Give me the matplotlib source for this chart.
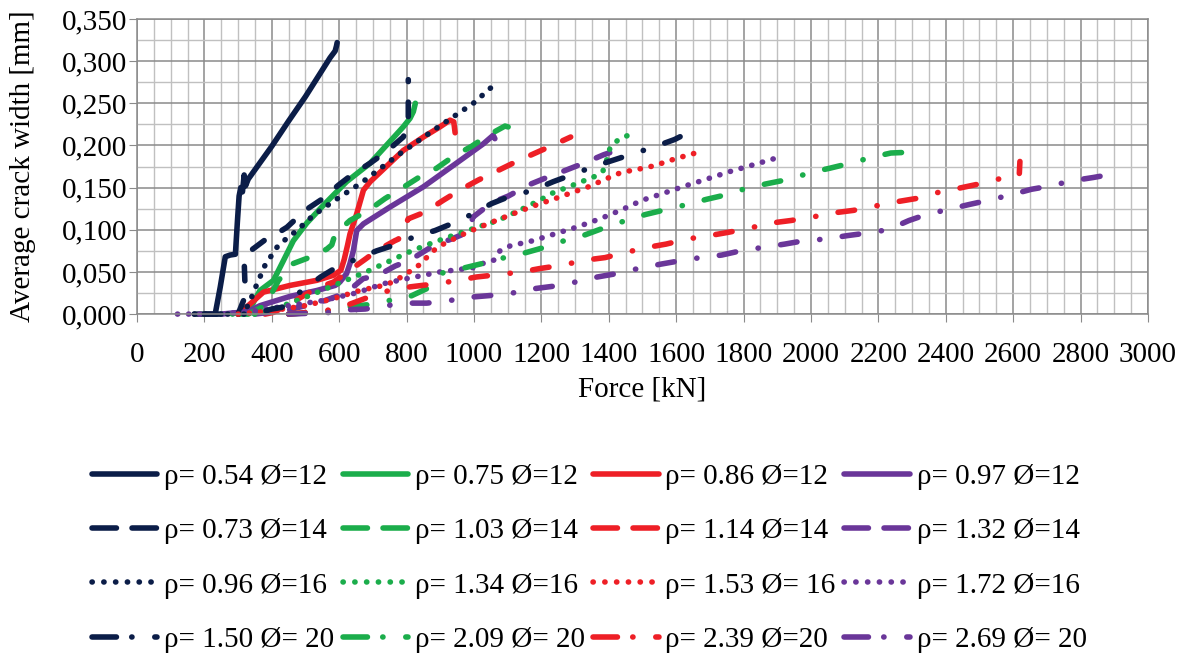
import matplotlib
matplotlib.use('Agg')
import matplotlib.pyplot as plt
from matplotlib.lines import Line2D
from matplotlib.ticker import MultipleLocator, FuncFormatter

plt.rcParams['font.family'] = ['Liberation Serif', 'DejaVu Serif']

# --- data (force kN, crack width mm) ---
f_054 = [170, 232, 247, 262, 276, 292, 298, 303, 308, 313, 318, 322, 330, 400, 450, 500, 573, 588, 592, 594]
w_054 = [0, 0, 0.032, 0.068, 0.070, 0.071, 0.110, 0.140, 0.150, 0.145, 0.165, 0.152, 0.160, 0.199, 0.229, 0.258, 0.304, 0.312, 0.318, 0.322]

f_075 = [300, 326, 365, 405, 434, 464, 504, 553, 622, 692, 790, 810, 820, 826]
w_075 = [0, 0, 0.028, 0.040, 0.063, 0.087, 0.108, 0.129, 0.157, 0.179, 0.222, 0.232, 0.240, 0.250]

f_086 = [300, 330, 375, 454, 533, 583, 605, 615, 625, 632, 652, 672, 692, 790, 850, 899, 929, 940, 944]
w_086 = [0, 0.010, 0.026, 0.034, 0.040, 0.046, 0.052, 0.065, 0.082, 0.095, 0.119, 0.147, 0.157, 0.194, 0.210, 0.222, 0.230, 0.228, 0.215]

f_097 = [250, 330, 365, 454, 534, 588, 602, 622, 632, 642, 652, 672, 751, 850, 948, 1028, 1057, 1062]
w_097 = [0, 0.003, 0.010, 0.021, 0.028, 0.034, 0.038, 0.048, 0.060, 0.075, 0.099, 0.107, 0.127, 0.151, 0.179, 0.202, 0.212, 0.208]

f_073 = [300, 325, 320, 318, 326, 350, 380, 405, 445, 499, 548, 598, 637, 692, 741, 790, 805, 805]
w_073 = [0, 0.025, 0.040, 0.063, 0.072, 0.079, 0.088, 0.093, 0.103, 0.123, 0.136, 0.153, 0.165, 0.179, 0.193, 0.210, 0.222, 0.278]

f_103 = [330, 380, 420, 464, 504, 563, 578, 588, 632, 687, 736, 785, 840, 889, 939, 993, 1042, 1092, 1118, 1124]
w_103 = [0, 0.010, 0.040, 0.060, 0.066, 0.077, 0.082, 0.095, 0.111, 0.123, 0.137, 0.149, 0.163, 0.173, 0.187, 0.199, 0.212, 0.223, 0.220, 0.210]

f_114 = [380, 405, 450, 528, 583, 642, 677, 711, 765, 776, 805, 855, 909, 958, 1013, 1065, 1116, 1171, 1227, 1287]
w_114 = [0, 0.002, 0.011, 0.030, 0.038, 0.055, 0.065, 0.075, 0.087, 0.089, 0.113, 0.121, 0.135, 0.147, 0.159, 0.169, 0.179, 0.189, 0.199, 0.210]

f_132 = [350, 450, 550, 620, 671, 716, 766, 810, 879, 933, 982, 997, 1052, 1102, 1161, 1210, 1275, 1326, 1385, 1437]
w_132 = [0, 0.005, 0.015, 0.025, 0.042, 0.046, 0.057, 0.064, 0.081, 0.089, 0.097, 0.115, 0.132, 0.140, 0.153, 0.161, 0.171, 0.179, 0.189, 0.196]

f_096 = [170, 300, 330, 350, 380, 420, 474, 523, 580, 667, 776, 887, 998, 1049]
w_096 = [0, 0, 0.010, 0.030, 0.058, 0.082, 0.099, 0.117, 0.133, 0.156, 0.189, 0.220, 0.250, 0.268]

f_134 = [250, 350, 420, 500, 560, 620, 691, 750, 815, 880, 943, 1010, 1071, 1135, 1195, 1230, 1294, 1357, 1383, 1394, 1403, 1426, 1457, 1471]
w_134 = [0, 0, 0.008, 0.020, 0.030, 0.040, 0.052, 0.063, 0.075, 0.085, 0.094, 0.103, 0.111, 0.123, 0.135, 0.143, 0.153, 0.163, 0.170, 0.183, 0.196, 0.206, 0.212, 0.206]

f_153 = [300, 400, 500, 580, 662, 720, 760, 800, 844, 868, 894, 980, 1047, 1110, 1175, 1241, 1290, 1340, 1390, 1437, 1490, 1536, 1580, 1630, 1667]
w_153 = [0, 0.004, 0.010, 0.018, 0.028, 0.033, 0.038, 0.048, 0.060, 0.071, 0.080, 0.097, 0.108, 0.118, 0.128, 0.137, 0.144, 0.151, 0.160, 0.168, 0.172, 0.176, 0.182, 0.188, 0.192]

f_172 = [120, 250, 350, 450, 550, 650, 731, 800, 899, 997, 1026, 1059, 1077, 1108, 1175, 1239, 1304, 1374, 1440, 1499, 1560, 1627, 1690, 1759, 1820, 1888]
w_172 = [0, 0, 0.004, 0.010, 0.016, 0.025, 0.036, 0.042, 0.050, 0.055, 0.060, 0.064, 0.075, 0.081, 0.087, 0.095, 0.103, 0.113, 0.124, 0.135, 0.143, 0.152, 0.160, 0.169, 0.176, 0.184]

f_150 = [200, 350, 400, 430, 480, 545, 590, 650, 711, 765, 825, 884, 939, 997, 1052, 1102, 1176, 1235, 1289, 1355, 1417, 1471, 1533, 1595, 1620, 1633]
w_150 = [0, 0, 0.006, 0.008, 0.025, 0.044, 0.055, 0.065, 0.075, 0.082, 0.092, 0.099, 0.108, 0.119, 0.131, 0.139, 0.147, 0.157, 0.165, 0.175, 0.183, 0.190, 0.198, 0.207, 0.212, 0.221]

f_209 = [450, 558, 613, 682, 746, 800, 859, 908, 963, 1025, 1091, 1146, 1208, 1275, 1330, 1391, 1451, 1508, 1570, 1633, 1689, 1754, 1814, 1874, 1936, 2000, 2056, 2118, 2181, 2237, 2294]
w_209 = [0, 0.003, 0.008, 0.011, 0.016, 0.019, 0.030, 0.049, 0.054, 0.060, 0.067, 0.072, 0.079, 0.088, 0.094, 0.103, 0.111, 0.118, 0.124, 0.130, 0.136, 0.142, 0.150, 0.155, 0.160, 0.168, 0.173, 0.179, 0.186, 0.191, 0.192]

f_239 = [450, 560, 620, 700, 765, 825, 889, 953, 1007, 1076, 1141, 1195, 1262, 1330, 1389, 1449, 1513, 1570, 1633, 1698, 1755, 1818, 1882, 1941, 2003, 2067, 2126, 2189, 2251, 2311, 2374, 2436, 2495, 2555, 2618, 2620]
w_239 = [0, 0.004, 0.010, 0.022, 0.030, 0.033, 0.036, 0.040, 0.044, 0.047, 0.050, 0.054, 0.058, 0.064, 0.067, 0.073, 0.079, 0.083, 0.089, 0.093, 0.097, 0.102, 0.108, 0.111, 0.115, 0.120, 0.123, 0.128, 0.133, 0.137, 0.144, 0.149, 0.154, 0.160, 0.165, 0.181]

f_269 = [450, 578, 618, 677, 741, 790, 860, 926, 988, 1047, 1114, 1176, 1235, 1301, 1366, 1423, 1487, 1551, 1608, 1672, 1735, 1791, 1856, 1922, 1979, 2043, 2107, 2164, 2228, 2291, 2342, 2406, 2470, 2527, 2589, 2654, 2711, 2773, 2838, 2894]
w_269 = [0, 0.002, 0.005, 0.006, 0.010, 0.013, 0.013, 0.016, 0.020, 0.022, 0.025, 0.030, 0.033, 0.038, 0.044, 0.048, 0.054, 0.059, 0.063, 0.067, 0.070, 0.075, 0.079, 0.083, 0.087, 0.089, 0.093, 0.096, 0.100, 0.111, 0.118, 0.124, 0.130, 0.135, 0.141, 0.148, 0.152, 0.158, 0.162, 0.166]

labels = ['ρ= 0.54 Ø=12', 'ρ= 0.75 Ø=12', 'ρ= 0.86 Ø=12', 'ρ= 0.97 Ø=12',
          'ρ= 0.73 Ø=14', 'ρ= 1.03 Ø=14', 'ρ= 1.14 Ø=14', 'ρ= 1.32 Ø=14',
          'ρ= 0.96 Ø=16', 'ρ= 1.34 Ø=16', 'ρ= 1.53 Ø= 16', 'ρ= 1.72 Ø=16',
          'ρ= 1.50 Ø= 20', 'ρ= 2.09 Ø= 20', 'ρ= 2.39 Ø=20', 'ρ= 2.69 Ø= 20']

series = [(f_054, w_054), (f_075, w_075), (f_086, w_086), (f_097, w_097),
          (f_073, w_073), (f_103, w_103), (f_114, w_114), (f_132, w_132),
          (f_096, w_096), (f_134, w_134), (f_153, w_153), (f_172, w_172),
          (f_150, w_150), (f_209, w_209), (f_239, w_239), (f_269, w_269)]

colors = ['#0B1D48', '#1BAD4B', '#EE1F26', '#6A3699']
# pattern per row (dash units = linewidth)
styles = ['-', (0, (2.6, 3.7)), (0, (0.05, 1.95)), (0, (3.0, 4.1, 0.05, 4.05))]
leg_styles = ['-', (0, (4.4, 2.8)), (0, (0.05, 2.07)), (0, (4.4, 2.75, 0.05, 4.1))]
LW = 4.0

fig = plt.figure(figsize=(11.83, 6.53), dpi=100)
ax = fig.add_axes([0.1158, 0.519, 0.8546, 0.452])

handles = []
for i, (f, w) in enumerate(series):
    row, col = divmod(i, 4)
    ax.plot(f, w, color=colors[col], lw=LW, linestyle=styles[row],
            solid_capstyle='round', dash_capstyle='round',
            solid_joinstyle='round', dash_joinstyle='round', clip_on=False)
    handles.append(Line2D([], [], color=colors[col], lw=LW, linestyle=leg_styles[row],
                          solid_capstyle='round', dash_capstyle='round'))

ax.set_xlim(0, 3000)
ax.set_ylim(0, 0.35)
ax.xaxis.set_major_locator(MultipleLocator(200))
ax.xaxis.set_minor_locator(MultipleLocator(50))
ax.yaxis.set_major_locator(MultipleLocator(0.05))
ax.yaxis.set_minor_locator(MultipleLocator(0.025))
ax.yaxis.set_major_formatter(FuncFormatter(lambda v, p: f'{v:.3f}'.replace('.', ',')))

ax.grid(which='major', color='#8A8A8A', lw=1.1)
ax.grid(which='minor', color='#C0C0C0', lw=1.0)
ax.set_axisbelow(True)
for s in ax.spines.values():
    s.set_color('#8A8A8A')
    s.set_linewidth(1.1)
ax.tick_params(which='major', direction='out', length=6, color='#8A8A8A', labelsize=21, pad=1)
ax.tick_params(axis='x', which='major', pad=14)
ax.tick_params(which='minor', length=0)

ax.set_xlabel('Force [kN]', fontsize=21)
ax.set_ylabel('Average crack width [mm]', fontsize=21)
ax.xaxis.set_label_coords(0.5, -0.213)
ax.yaxis.set_label_coords(-0.1, 0.5)

# matplotlib fills legend columns first, reorder so rows read across
order = [r * 4 + c for c in range(4) for r in range(4)]
fig.legend([handles[k] for k in order], [labels[k] for k in order],
           loc='center', bbox_to_anchor=(0.498, 0.145), ncol=4, frameon=False,
           fontsize=21, handlelength=2.25, handletextpad=0.22,
           columnspacing=0.3, labelspacing=0.95)

fig.savefig('out.png', dpi=100)
